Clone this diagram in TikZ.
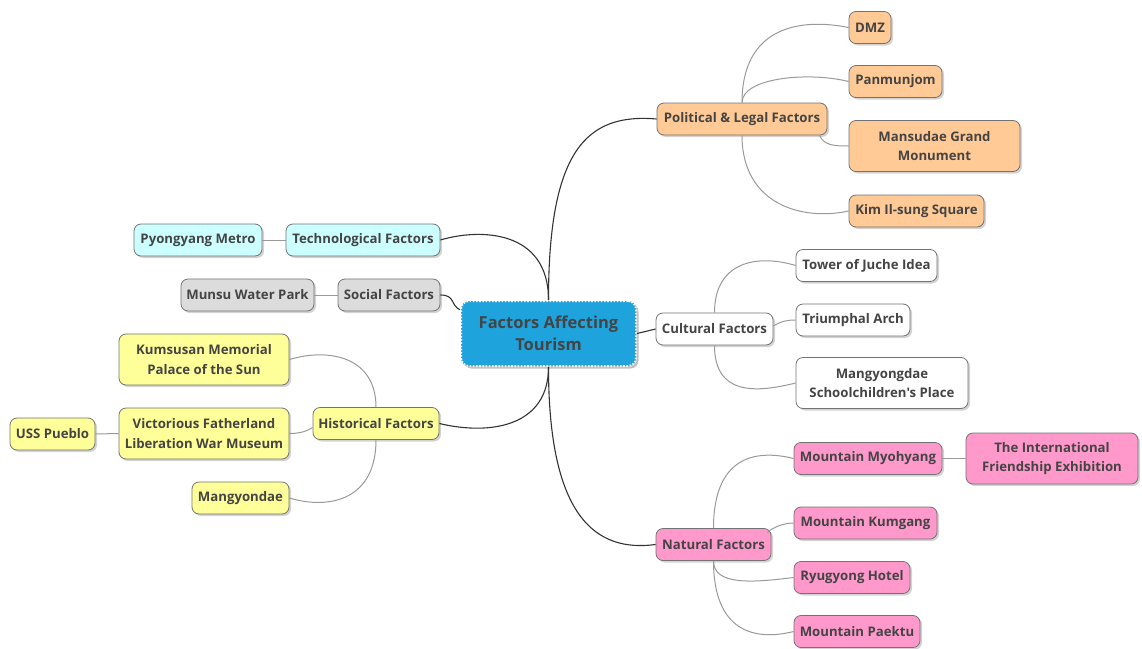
\documentclass[tikz,border=0pt]{standalone}
\usepackage{fontspec}
\setmainfont{Open Sans}[Ligatures=TeXOff]
\usetikzlibrary{shadows,calc}
\definecolor{txt}{HTML}{444444}
\definecolor{rootc}{HTML}{1FA3DD}
\definecolor{orangec}{HTML}{FFCA96}
\definecolor{pinkc}{HTML}{FF99CC}
\definecolor{cyanc}{HTML}{CCFFFF}
\definecolor{greyc}{HTML}{DCDCDC}
\definecolor{yellowc}{HTML}{FFFF99}
\begin{document}
\begin{tikzpicture}[x=1pt,y=-1pt,
  box/.style={rounded corners=7pt, draw=black!55, line width=0.8pt,
    font=\bfseries\fontsize{13.2}{19.5}\selectfont, text=txt,
    minimum height=32pt, inner xsep=5pt, inner ysep=3pt, align=center,
    drop shadow={shadow xshift=2pt, shadow yshift=-2pt, opacity=0.35}},
  two/.style={minimum height=51pt},
  rootbox/.style={rounded corners=8pt, fill=rootc, draw=white, line width=2pt,
    dash pattern=on 1.6pt off 1.6pt,
    font=\bfseries\fontsize{16.5}{22.5}\selectfont, text=txt, align=center,
    minimum width=175pt, minimum height=65pt,
    drop shadow={shadow xshift=2.5pt, shadow yshift=-2.5pt, opacity=0.5}},
  mainln/.style={draw=black!80, line width=1.1pt},
  subln/.style={draw=black!40, line width=1pt},
]
\useasboundingbox (0,0) rectangle (1142,648);

% root
\node[rootbox] (root) at (548.5,333.5) {Factors Affecting\\Tourism};

% political
\node[box, fill=orangec, minimum width=170pt] (pol) at (742,119) {Political \& Legal Factors};
\node[box, fill=orangec, minimum width=42pt] (dmz) at (870,27.5) {DMZ};
\node[box, fill=orangec, minimum width=93pt] (pan) at (895.5,81.5) {Panmunjom};
\node[box, fill=orangec, two, minimum width=171pt] (man) at (934.5,146) {Mansudae Grand\\Monument};
\node[box, fill=orangec, minimum width=135pt] (kim) at (916.5,211) {Kim Il-sung Square};

% cultural
\node[box, fill=white, minimum width=117pt] (cult) at (714.5,329) {Cultural Factors};
\node[box, fill=white, minimum width=141pt] (tower) at (866.5,265.5) {Tower of Juche Idea};
\node[box, fill=white, minimum width=114pt] (arch) at (853,320) {Triumphal Arch};
\node[box, fill=white, two, minimum width=172pt] (mang) at (882,383) {Mangyongdae\\Schoolchildren's Place};

% natural
\node[box, fill=pinkc, minimum width=115pt] (nat) at (713.5,544.5) {Natural Factors};
\node[box, fill=pinkc, minimum width=148pt] (myo) at (868,458.5) {Mountain Myohyang};
\node[box, fill=pinkc, two, minimum width=172pt] (intl) at (1052,458.5) {The International\\Friendship Exhibition};
\node[box, fill=pinkc, minimum width=143pt] (kum) at (865.5,523) {Mountain Kumgang};
\node[box, fill=pinkc, minimum width=116pt] (ryu) at (852,577.5) {Ryugyong Hotel};
\node[box, fill=pinkc, minimum width=126pt] (pae) at (857,631.5) {Mountain Paektu};

% technological
\node[box, fill=cyanc, minimum width=154pt] (tech) at (363,240) {Technological Factors};
\node[box, fill=cyanc, minimum width=128pt] (metro) at (198,240) {Pyongyang Metro};

% social
\node[box, fill=greyc, minimum width=102pt] (soc) at (389,295) {Social Factors};
\node[box, fill=greyc, minimum width=133pt] (munsu) at (247.5,295) {Munsu Water Park};

% historical
\node[box, fill=yellowc, minimum width=126pt] (hist) at (376,423.5) {Historical Factors};
\node[box, fill=yellowc, two, minimum width=170pt] (kums) at (204,359.5) {Kumsusan Memorial\\Palace of the Sun};
\node[box, fill=yellowc, two, minimum width=170pt] (vict) at (204,433.5) {Victorious Fatherland\\Liberation War Museum};
\node[box, fill=yellowc, minimum width=85pt] (uss) at (52.5,434) {USS Pueblo};
\node[box, fill=yellowc, minimum width=97pt] (mgd) at (240.5,498) {Mangyondae};

% main connectors
\draw[mainln] (root.north) .. controls +(0,-150) and +(-70,-6) .. (pol.west);
\draw[mainln] (root.north) .. controls +(0,-70) and +(40,-12) .. (tech.east);
\draw[mainln] (soc.east) .. controls +(15,0) and +(-10,-5) .. (root.165);
\draw[mainln] (root.east) -- (cult.west);
\draw[mainln] (root.south) .. controls +(0,150) and +(-60,8) .. (nat.west);
\draw[mainln] (root.south) .. controls +(0,60) and +(50,12) .. (hist.east);

% political children
\draw[subln] (pol.north) .. controls +(0,-75) and +(-50,-10) .. (dmz.west);
\draw[subln] (pol.north) .. controls +(0,-25) and +(-40,-10) .. (pan.west);
\draw[subln] ($(pol.south east)+(-8,0)$) .. controls +(5,10) and +(-15,0) .. (man.west);
\draw[subln] (pol.south) .. controls +(0,70) and +(-45,10) .. (kim.west);

% cultural children
\draw[subln] (cult.north) .. controls +(0,-50) and +(-40,-12) .. (tower.west);
\draw[subln] ($(cult.east)+(0,-3)$) .. controls +(8,-5) and +(-8,0) .. (arch.west);
\draw[subln] (cult.south) .. controls +(0,50) and +(-40,10) .. (mang.west);

% natural children
\draw[subln] (nat.north) .. controls +(0,-70) and +(-40,-10) .. (myo.west);
\draw[subln] ($(nat.east)+(-4,-12)$) .. controls +(5,-5) and +(-10,0) .. (kum.west);
\draw[subln] (nat.south) .. controls +(0,25) and +(-40,5) .. (ryu.west);
\draw[subln] (nat.south) .. controls +(0,70) and +(-40,10) .. (pae.west);
\draw[subln] (myo.east) -- (intl.west);

% other children
\draw[subln] (tech.west) -- (metro.east);
\draw[subln] (soc.west) -- (munsu.east);
\draw[subln] (hist.north) .. controls +(0,-50) and +(40,-12) .. (kums.east);
\draw[subln] ($(hist.west)+(0,4)$) .. controls +(-8,5) and +(8,0) .. (vict.east);
\draw[subln] (hist.south) .. controls +(0,60) and +(40,12) .. (mgd.east);
\draw[subln] (vict.west) -- (uss.east);
\end{tikzpicture}
\end{document}
